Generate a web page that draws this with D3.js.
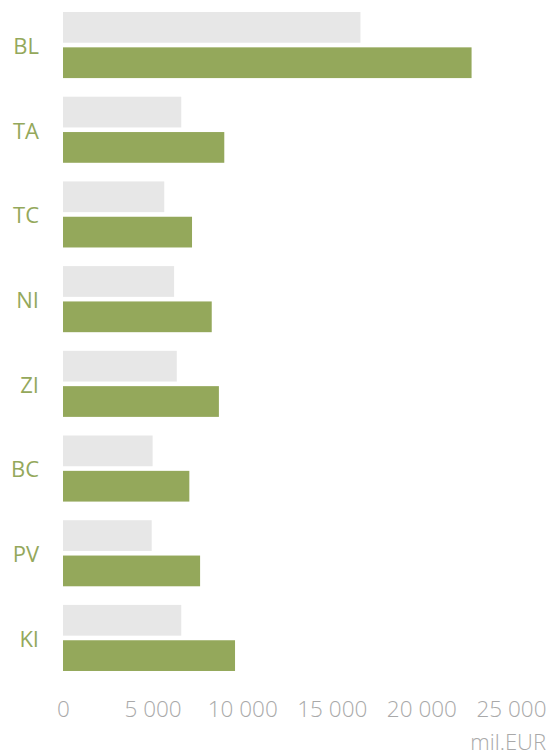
<!DOCTYPE html>
<html>
<head>
<meta charset="utf-8">
<script src="https://cdn.jsdelivr.net/npm/d3@7"></script>
<style>
  body { margin: 0; background: #fff; }
  svg { display: block; font-family: "Open Sans", sans-serif; }
</style>
</head>
<body>
<svg width="552" height="755"></svg>
<script>
// Data
var categories = ["BL", "TA", "TC", "NI", "ZI", "BC", "PV", "KI"];
var previous = [16600, 6600, 5650, 6200, 6350, 5000, 4950, 6600];
var current = [22800, 9000, 7200, 8300, 8700, 7050, 7650, 9600];
var tickValues = [0, 5000, 10000, 15000, 20000, 25000];
var unitLabel = "mil.EUR";

var svg = d3.select("svg");
var width = +svg.attr("width");

// Scales
var x = d3.scaleLinear()
  .domain([0, 25000])
  .range([63, 511]);

var y = d3.scaleBand()
  .domain(categories)
  .range([2.7, 680.3])
  .paddingInner(0.22)
  .paddingOuter(0.11);

var ySub = d3.scaleBand()
  .domain(["previous", "current"])
  .range([0, y.bandwidth()])
  .paddingInner(0.13);

var colors = { previous: "#e7e7e7", current: "#94a85b" };

var rows = categories.map(function(c, i) {
  return { name: c, previous: previous[i], current: current[i] };
});

// Bars
var groups = svg.append("g")
  .selectAll("g")
  .data(rows)
  .enter()
  .append("g")
    .attr("transform", function(d) { return "translate(0," + y(d.name) + ")"; });

groups.selectAll("rect")
  .data(function(d) {
    return ["previous", "current"].map(function(k) { return { key: k, value: d[k] }; });
  })
  .enter()
  .append("rect")
    .attr("x", x(0))
    .attr("y", function(d) { return ySub(d.key); })
    .attr("width", function(d) { return x(d.value) - x(0); })
    .attr("height", ySub.bandwidth())
    .attr("fill", function(d) { return colors[d.key]; });

// Category labels
svg.append("g")
  .selectAll("text")
  .data(categories)
  .enter()
  .append("text")
    .attr("x", 39)
    .attr("y", function(d) { return y(d) + y.bandwidth() / 2; })
    .attr("dy", "0.4em")
    .attr("text-anchor", "end")
    .attr("fill", "#94a85b")
    .style("font-size", "22px")
    .text(function(d) { return d; });

// Axis
var locale = d3.formatLocale({ decimal: ",", thousands: " ", grouping: [3], currency: ["", ""] });

var axis = svg.append("g")
  .attr("transform", "translate(0,701)")
  .call(d3.axisBottom(x)
    .tickValues(tickValues)
    .tickSize(0)
    .tickPadding(0)
    .tickFormat(locale.format(",")));

axis.select(".domain").remove();
axis.selectAll("text")
  .attr("dy", "0.71em")
  .attr("fill", "#a9a9a9")
  .style("font-family", "'Open Sans', sans-serif")
  .style("font-size", "22.5px")
  .style("font-weight", 300);

// Unit
svg.append("text")
  .attr("x", 546)
  .attr("y", 750)
  .attr("text-anchor", "end")
  .attr("fill", "#a9a9a9")
  .style("font-size", "22px")
  .style("font-weight", 300)
  .text(unitLabel);
</script>
</body>
</html>
